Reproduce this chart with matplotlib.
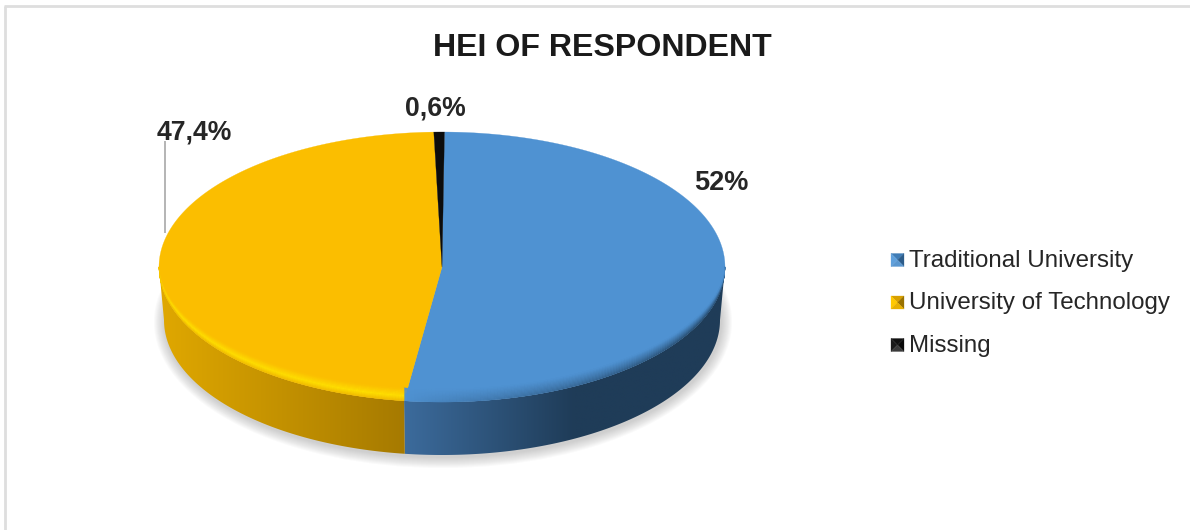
import numpy as np
import matplotlib.pyplot as plt
from matplotlib.patches import Polygon, Ellipse
from matplotlib.collections import PolyCollection
from matplotlib.colors import to_rgb

plt.rcParams['font.family'] = ['Liberation Sans', 'DejaVu Sans']

categories = ['Traditional University', 'University of Technology', 'Missing']
shares = [52.0, 47.4, 0.6]
labels = ['52%', '47,4%', '0,6%']
top_colors = ['#4f92d2', '#fbbe00', '#0c0c0c']
wall_near = ['#1f3c58', '#e0a800', '#111111']
wall_far = ['#3c6b9c', '#a67a00', '#111111']
key_colors = [
    ['#3f7cb6', '#5fa0dc', '#2c5c8a', '#5a97d0'],
    ['#d8a000', '#ffc800', '#9a7200', '#e8b000'],
    ['#101010', '#1a1a1a', '#0a0a0a', '#3a3a3a'],
]

W, H = 1190, 530
cx, cy, rx, ry = 442, 267, 283, 135
depth = 53
base_rx = 278
bevel = 13
start_angle = 0.5


def mix(c1, c2, t):
    c1, c2 = np.array(to_rgb(c1)), np.array(to_rgb(c2))
    return tuple(c1 + (c2 - c1) * t)


def top_edge(theta, inset=0.0):
    # the bevel only pulls the front half of the outline inwards
    front = np.sqrt(np.maximum(0, -np.cos(theta)))
    return cx + rx * np.sin(theta), cy - ry * np.cos(theta) - inset * front


def rim_color(k, theta, f):
    # f runs from 0 at the outer edge to 1 at the flat face
    if k == 0:
        # dark on the right side, gone by the front seam
        strength = np.clip((np.radians(187) - theta) / np.radians(70), 0, 1) ** 0.7
        edge = mix(top_colors[0], '#234463', strength)
        return mix(edge, top_colors[0], f ** 0.8)
    if k == 1:
        strength = np.clip((np.radians(300) - theta) / np.radians(50), 0, 1)
        glow = mix(top_colors[1], '#ffe000', strength)
        if f < 0.4:
            return mix('#f0ba00', glow, f / 0.4)
        return mix(glow, top_colors[1], (f - 0.4) / 0.6)
    return to_rgb(top_colors[k])


fig = plt.figure(figsize=(W / 100, H / 100), dpi=100)
ax = fig.add_axes([0, 0, 1, 1])

# chart frame: top and left edges
ax.plot([5, 5], [530, 5.5], color='#dedede', lw=2, solid_capstyle='butt', zorder=0)
ax.plot([4, 1190], [5.5, 5.5], color='#dedede', lw=2, solid_capstyle='butt', zorder=0)

# soft shadow under the disc
for grow in range(11, 0, -1):
    ax.add_patch(Ellipse((cx + 1, cy + depth + 2), 2 * (base_rx + grow), 2 * (ry + grow),
                         color='#7a7a7a', alpha=0.035, lw=0, zorder=1))

# slice angles, clockwise from twelve o'clock
edges = np.radians(np.concatenate([[0], np.cumsum(shares)]) * 3.6 + start_angle)

# side wall: a horizontal gradient clipped to the visible part of each slice
for k in range(len(shares)):
    start, end = max(edges[k], np.pi / 2), min(edges[k + 1], 3 * np.pi / 2)
    if start >= end:
        continue
    th = np.linspace(start, end, 200)
    x_top, y_top = top_edge(th)
    x_low = cx + base_rx * np.sin(th)
    y_low = cy + depth - ry * np.cos(th)
    outline = np.vstack([np.c_[x_top, y_top], np.c_[x_low, y_low][::-1]])
    xs = np.linspace(outline[:, 0].min(), outline[:, 0].max(), 256)
    if k == 0:
        # seam side is the lighter end, the dark tone is reached well before the right edge
        t = np.clip((xs - xs[0]) / 170, 0, 1)
        ramp = np.array([mix(wall_far[0], wall_near[0], v) for v in t])
    else:
        t = (xs - xs[0]) / (xs[-1] - xs[0])
        ramp = np.array([mix(wall_near[1], wall_far[1], v) for v in t])
    img = ax.imshow(ramp[None, :, :], extent=(xs[0], xs[-1], outline[:, 1].max(), outline[:, 1].min()),
                    aspect='auto', interpolation='bilinear', zorder=2)
    clip = Polygon(outline, closed=True, transform=ax.transData, fc='none', ec='none')
    ax.add_patch(clip)
    img.set_clip_path(clip)

# top face: flat slices, then the bevel in thin cells over the front edge
for k in range(len(shares)):
    th = np.linspace(edges[k], edges[k + 1], 220)
    x, y = top_edge(th)
    ax.add_patch(Polygon([(cx, cy)] + list(zip(x, y)), closed=True,
                         fc=top_colors[k], ec=top_colors[k], lw=0.2, zorder=3))
    start, end = max(edges[k], np.pi / 2), min(edges[k + 1], 3 * np.pi / 2)
    if start >= end or k == 2:
        continue
    steps = np.linspace(start, end, 140)
    layers = np.linspace(0, bevel, 12)
    cells, colors = [], []
    for a, b in zip(steps[:-1], steps[1:]):
        for i in range(len(layers) - 1):
            pair = np.array([a, b])
            xo, yo = top_edge(pair, layers[i])
            xi, yi = top_edge(pair, layers[i + 1])
            cells.append([(xo[0], yo[0]), (xo[1], yo[1]), (xi[1], yi[1]), (xi[0], yi[0])])
            colors.append(rim_color(k, (a + b) / 2, (i + 0.5) / (len(layers) - 1)))
    ax.add_collection(PolyCollection(cells, facecolors=colors, edgecolors=colors,
                                     linewidths=0.2, zorder=4))

# data labels
ax.text(721, 182.5, labels[0], fontsize=19.5, fontweight='bold', color='#262626',
        ha='center', va='center', zorder=6)
ax.text(194, 132, labels[1], fontsize=19.2, fontweight='bold', color='#262626',
        ha='center', va='center', zorder=6)
ax.text(435, 108, labels[2], fontsize=19.2, fontweight='bold', color='#262626',
        ha='center', va='center', zorder=6)
ax.plot([165, 165], [142, 232], color='#b4b4b4', lw=1.4, zorder=5)

ax.text(602, 47.5, 'HEI OF RESPONDENT', fontsize=23.1, fontweight='bold', color='#1a1a1a',
        ha='center', va='center')

# legend with small bevelled keys
key_y = [260, 302.5, 345]
for k, name in enumerate(categories):
    s = 13
    x0, y0 = 891, key_y[k] - s / 2
    mid = (x0 + s / 2, y0 + s / 2)
    corners = [(x0, y0), (x0 + s, y0), (x0 + s, y0 + s), (x0, y0 + s)]
    # top, left, right, bottom triangles
    sides = [(corners[0], corners[1]), (corners[3], corners[0]),
             (corners[1], corners[2]), (corners[2], corners[3])]
    for (p, q), col in zip(sides, key_colors[k]):
        ax.add_patch(Polygon([p, q, mid], closed=True, fc=col, ec=col, lw=0.2, zorder=5))
    ax.text(909, key_y[k] + 1, name, fontsize=17.35, color='#262626', ha='left', va='center')

ax.set_xlim(0, W)
ax.set_ylim(H, 0)
ax.axis('off')

fig.savefig('out.png', dpi=100)
